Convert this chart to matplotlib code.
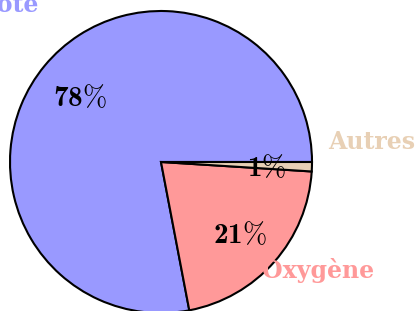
import matplotlib
matplotlib.use('Agg')
import matplotlib.pyplot as plt
import numpy as np

# données
labels = ['Azote', 'Oxygène', 'Autres']
values = [78, 21, 1]
colors = ['#9999ff', '#ff9999', '#e8d0b5']
pct_text = [r'$\mathbf{78}\%$', r'$\mathbf{21}\%$', r'$\mathbf{1}\%$']
# positions des étiquettes (coordonnées des données)
label_x = [-0.81, 0.67, 1.11]
label_y = [1.04, -0.72, 0.13]
label_ha = ['right', 'left', 'left']

plt.rcParams['mathtext.fontset'] = 'custom'
plt.rcParams['mathtext.rm'] = 'cmr10'
plt.rcParams['mathtext.bf'] = 'cmb10'
plt.rcParams['mathtext.it'] = 'cmmi10'

W, H = 419, 311
fig = plt.figure(figsize=(W / 100, H / 100), dpi=100)
cx, cy, r = 161, 162, 151
ax = fig.add_axes([(cx - r) / W, (H - cy - r) / H, 2 * r / W, 2 * r / H])

wedges, texts = ax.pie(values, colors=colors, startangle=0, counterclock=True,
                       wedgeprops={'edgecolor': 'black', 'linewidth': 1.5},
                       radius=1)
for w, pct in zip(wedges, pct_text):
    ang = np.deg2rad((w.theta1 + w.theta2) / 2)
    ax.text(0.7 * np.cos(ang), 0.7 * np.sin(ang) - 0.02, pct, ha='center', va='center',
            fontsize=21, color='black')
for lab, x, y, ha, c in zip(labels, label_x, label_y, label_ha, colors):
    ax.text(x, y, lab, ha=ha, va='center', fontsize=17, fontweight='heavy',
            family='DejaVu Serif', color=c)
ax.set_xlim(-1, 1)
ax.set_ylim(-1, 1)
ax.axis('off')

fig.savefig('out.png', dpi=100)
